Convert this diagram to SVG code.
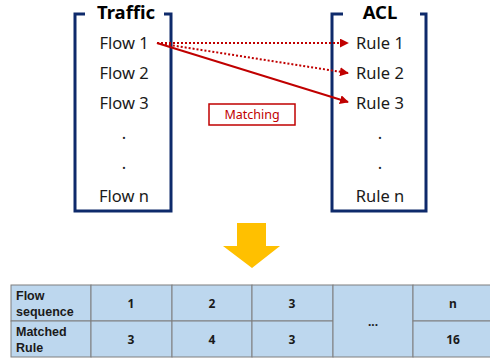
<svg xmlns="http://www.w3.org/2000/svg" width="490" height="358" viewBox="0 0 490 358">
<defs>
<style>
.frame{fill:none;stroke:#0E2A6B;stroke-width:3}
.lbl{font-family:"Noto Sans","Open Sans","Liberation Sans",sans-serif;font-size:16.5px;fill:#1a1a1a;text-anchor:middle}
.ttl{font-family:"Noto Sans","Open Sans","Liberation Sans",sans-serif;font-size:18.5px;font-weight:bold;fill:#000;text-anchor:middle}
.con{fill:none;stroke:#C00000;stroke-width:2}
.dot{stroke-dasharray:2 2}
.cell{fill:#BDD7EE;stroke:#7F7F7F;stroke-width:1}
.tt{font-family:"Noto Sans","Open Sans","Liberation Sans",sans-serif;font-size:12px;font-weight:bold;fill:#1a1a1a}
.hd{font-family:"Liberation Sans",Arial,sans-serif;font-size:12.5px;font-weight:bold;fill:#1a1a1a}
.c{text-anchor:middle}
</style>
<marker id="ah" viewBox="0 0 10 10" refX="9" refY="5" markerWidth="4.5" markerHeight="4.5" orient="auto" markerUnits="strokeWidth">
<path d="M0,0 L10,5 L0,10 z" fill="#C00000"/>
</marker>
</defs>
<g id="traffic">
<path class="frame" d="M85,14 H75 V211 H171 V14 H164"/>
<text class="ttl" x="126" y="19">Traffic</text>
<text class="lbl" x="124" y="49">Flow 1</text>
<text class="lbl" x="124" y="79">Flow 2</text>
<text class="lbl" x="124" y="109">Flow 3</text>
<text class="lbl" x="124" y="139">.</text>
<text class="lbl" x="124" y="169">.</text>
<text class="lbl" x="124" y="202">Flow n</text>
</g>
<g id="acl">
<path class="frame" d="M343,14 H332 V211 H426 V14 H420"/>
<text class="ttl" x="380" y="19">ACL</text>
<text class="lbl" x="380" y="49">Rule 1</text>
<text class="lbl" x="380" y="79">Rule 2</text>
<text class="lbl" x="380" y="109">Rule 3</text>
<text class="lbl" x="380" y="139">.</text>
<text class="lbl" x="380" y="169">.</text>
<text class="lbl" x="380" y="202">Rule n</text>
</g>
<g id="connectors">
<line class="con dot" x1="157" y1="43" x2="348" y2="43" marker-end="url(#ah)"/>
<line class="con dot" x1="157" y1="43" x2="348" y2="73" marker-end="url(#ah)"/>
<line class="con" x1="157" y1="43" x2="348" y2="102" marker-end="url(#ah)"/>
</g>
<g id="matching">
<rect x="209" y="104" width="86" height="21" fill="#fff" stroke="#C00000" stroke-width="1.5"/>
<text x="252" y="119" text-anchor="middle" font-family="Noto Sans,Open Sans,Liberation Sans,sans-serif" font-size="12.5" fill="#C00000">Matching</text>
</g>
<g id="down-arrow">
<polygon points="237,223 266,223 266,246 280,246 252,268 223,246 237,246" fill="#FFC000"/>
</g>
<g id="table">
<rect class="cell" x="11" y="285" width="80" height="36"/>
<rect class="cell" x="11" y="321" width="80" height="36"/>
<rect class="cell" x="91" y="285" width="81" height="36"/>
<rect class="cell" x="91" y="321" width="81" height="36"/>
<rect class="cell" x="172" y="285" width="80" height="36"/>
<rect class="cell" x="172" y="321" width="80" height="36"/>
<rect class="cell" x="252" y="285" width="81" height="36"/>
<rect class="cell" x="252" y="321" width="81" height="36"/>
<rect class="cell" x="333" y="285" width="80" height="72"/>
<rect class="cell" x="413" y="285" width="80" height="36"/>
<rect class="cell" x="413" y="321" width="80" height="36"/>
<text class="hd" x="16" y="300">Flow</text>
<text class="hd" x="16" y="315.5">sequence</text>
<text class="hd" x="16" y="336">Matched</text>
<text class="hd" x="16" y="351.5">Rule</text>
<text class="tt c" x="131" y="308">1</text>
<text class="tt c" x="212" y="308">2</text>
<text class="tt c" x="292" y="308">3</text>
<text class="tt c" x="453" y="308">n</text>
<text class="tt c" x="131" y="344">3</text>
<text class="tt c" x="212" y="344">4</text>
<text class="tt c" x="292" y="344">3</text>
<text class="tt c" x="453" y="344">16</text>
<text class="tt c" x="373" y="326">...</text>
</g>
</svg>
